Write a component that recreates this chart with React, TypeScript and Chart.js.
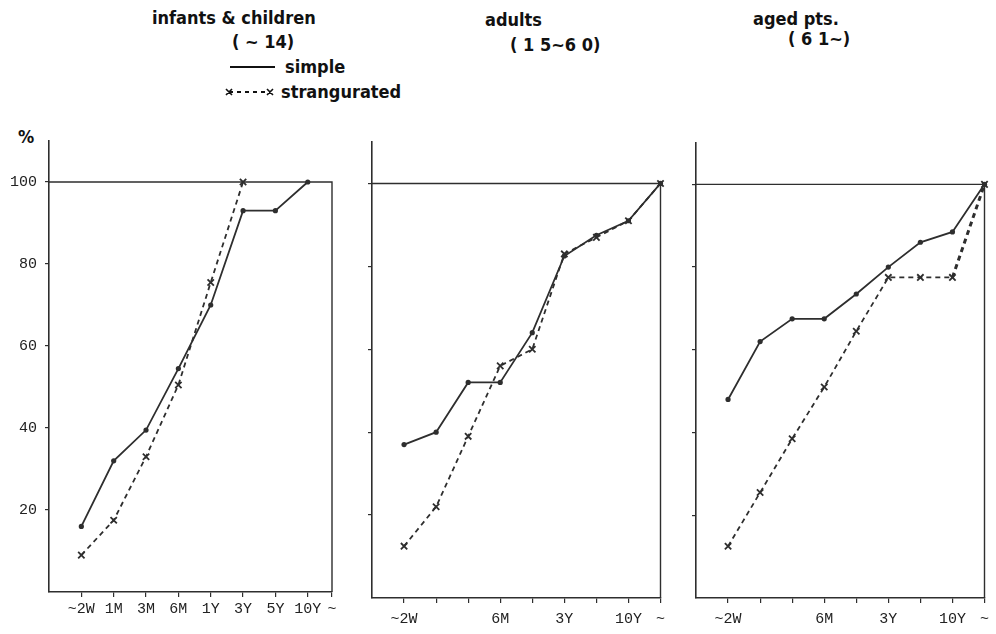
import React, { useEffect, useRef } from 'react';
import { Chart, registerables } from 'chart.js';

Chart.register(...registerables);

// ---------- data ----------
const CHILD_LABELS = ['~2W', '1M', '3M', '6M', '1Y', '3Y', '5Y', '10Y', '~'];
const CHILD_SIMPLE = [16, 32, 39.5, 54.5, 70, 93, 93, 100];
const CHILD_STRANG = [9, 17.5, 33, 50.5, 75.5, 100];

const ADULT_LABELS = ['~2W', '', '', '6M', '', '3Y', '', '10Y', '~'];
const ADULT_SIMPLE = [37, 40, 52, 52, 64, 82.5, 87.5, 91, 100];
const ADULT_STRANG = [12.5, 22, 39, 56, 60, 83, 87, 91, 100];

const AGED_LABELS = ['~2W', '', '', '6M', '', '3Y', '', '10Y', '~'];
const AGED_SIMPLE = [48, 62, 67.5, 67.5, 73.5, 80, 86, 88.5, 100];
const AGED_STRANG = [12.5, 25.5, 38.5, 51, 64.5, 77.5, 77.5, 77.5, 100];

const Y_TICKS = [20, 40, 60, 80, 100];
const Y_TICK_LABELS = ['20', '40', '60', '80', '100'];
const Y_MIN = 0;
const Y_MAX = 110;
const FULL = 100;

const INK = '#2e2e2e';
const TICK_FONT = "'Liberation Mono', 'DejaVu Sans Mono', monospace";
const HEAD_FONT = "'Liberation Sans Narrow', 'DejaVu Sans Condensed', 'Roboto', sans-serif";

type PanelProps = {
  labels: string[];
  simple: number[];
  strang: number[];
  xMax: number;
  showY: boolean;
  left: number;
  top: number;
  width: number;
  height: number;
  yWidth: number;
  xHeight: number;
  padTop: number;
  padRight: number;
  xPad: number;
  heavyLast?: boolean;
};

const framePlugin = {
  id: 'frame',
  beforeDatasetsDraw(chart: any) {
    const { ctx, chartArea, scales } = chart;
    const y100 = scales.y.getPixelForValue(FULL);
    const xr = chartArea.right;
    ctx.save();
    ctx.strokeStyle = INK;
    ctx.lineWidth = 1.4;
    ctx.beginPath();
    ctx.moveTo(chartArea.left, y100);
    ctx.lineTo(xr, y100);
    ctx.lineTo(xr, chartArea.bottom);
    ctx.stroke();
    ctx.restore();
  },
};

function Panel(p: PanelProps) {
  const ref = useRef<HTMLCanvasElement | null>(null);
  useEffect(() => {
    if (!ref.current) return;
    const last = p.labels.length - 1;
    const nStrang = p.strang.length;
    const chart = new Chart(ref.current, {
      type: 'line',
      data: {
        datasets: [
          {
            label: 'simple',
            data: p.simple.map((v, i) => ({ x: i, y: v })),
            borderColor: INK,
            borderWidth: 1.8,
            pointRadius: 2.6,
            pointBackgroundColor: INK,
            pointBorderWidth: 0,
            pointStyle: 'circle',
            tension: 0,
            clip: false,
          } as any,
          {
            label: 'strangurated',
            data: p.strang.map((v, i) => ({ x: i, y: v })),
            borderColor: INK,
            borderWidth: 1.8,
            borderDash: [5, 4],
            pointStyle: 'crossRot',
            pointRadius: 4.5,
            pointBorderWidth: 1.8,
            pointBorderColor: INK,
            tension: 0,
            clip: false,
            segment: {
              borderWidth: (c: any) => (p.heavyLast && c.p1DataIndex === nStrang - 1 ? 3 : 1.8),
            },
          } as any,
        ],
      },
      options: {
        responsive: false,
        animation: false,
        layout: { padding: { top: p.padTop, right: p.padRight, left: 0, bottom: 0 } },
        plugins: { legend: { display: false }, tooltip: { enabled: false } },
        scales: {
          x: {
            type: 'linear',
            min: -1,
            max: p.xMax,
            afterBuildTicks: (s: any) => {
              s.ticks = p.labels.map((_, i) => ({ value: i === last ? p.xMax : i }));
            },
            afterFit: (s: any) => {
              s.height = p.xHeight;
            },
            ticks: {
              autoSkip: false,
              maxRotation: 0,
              padding: p.xPad,
              color: '#222',
              font: { family: TICK_FONT, size: 15 },
              callback: (_v: any, i: number) => p.labels[i],
            },
            grid: { drawOnChartArea: false, drawTicks: true, tickLength: 5, color: INK, lineWidth: 1.2 },
            border: { color: INK, width: 1.6 },
          },
          y: {
            type: 'linear',
            min: Y_MIN,
            max: Y_MAX,
            afterBuildTicks: (s: any) => {
              s.ticks = Y_TICKS.map((v) => ({ value: v }));
            },
            afterFit: (s: any) => {
              s.width = p.yWidth;
            },
            ticks: {
              padding: 8,
              color: '#222',
              font: { family: TICK_FONT, size: 15 },
              callback: (_v: any, i: number) => (p.showY ? Y_TICK_LABELS[i] : ''),
            },
            grid: { drawOnChartArea: false, drawTicks: true, tickLength: 4, color: INK, lineWidth: 1.2 },
            border: { color: INK, width: 1.6 },
          },
        },
      },
      plugins: [framePlugin],
    } as any);
    return () => chart.destroy();
  }, []);
  return (
    <canvas
      ref={ref}
      width={p.width}
      height={p.height}
      style={{ position: 'absolute', left: p.left, top: p.top, width: p.width, height: p.height }}
    />
  );
}

function Txt({ x, y, size, children, bold = true }: { x: number; y: number; size: number; children: any; bold?: boolean }) {
  return (
    <div
      style={{
        position: 'absolute',
        left: x,
        top: y - size / 2,
        fontFamily: HEAD_FONT,
        fontWeight: bold ? 700 : 400,
        fontSize: size,
        lineHeight: 1,
        whiteSpace: 'pre',
        color: '#111',
      }}
    >
      {children}
    </div>
  );
}

export default function App() {
  return (
    <div style={{ position: 'fixed', left: 0, top: 0, width: 996, height: 634, background: '#fff', overflow: 'hidden' }}>
      <Txt x={152} y={18} size={18}>infants &amp; children</Txt>
      <Txt x={232} y={42} size={18}>{'( ~ 14)'}</Txt>
      <svg style={{ position: 'absolute', left: 222, top: 55 }} width={56} height={45}>
        <line x1={8} y1={12} x2={53} y2={12} stroke="#111" strokeWidth={2} />
        <line x1={7} y1={37} x2={48} y2={37} stroke="#111" strokeWidth={1.8} strokeDasharray="4 4" />
        <path d="M4 34 L10 40 M10 34 L4 40 M45 34 L51 40 M51 34 L45 40" stroke="#111" strokeWidth={1.6} />
      </svg>
      <Txt x={285} y={67} size={18}>simple</Txt>
      <Txt x={281} y={92} size={18}>strangurated</Txt>
      <Txt x={485} y={20} size={18}>adults</Txt>
      <Txt x={510} y={45} size={18}>{'( 1 5~6 0)'}</Txt>
      <Txt x={753} y={19} size={18}>aged pts.</Txt>
      <Txt x={788} y={39} size={18}>{'( 6 1~)'}</Txt>
      <Txt x={18} y={137} size={18}>%</Txt>

      <Panel labels={CHILD_LABELS} simple={CHILD_SIMPLE} strang={CHILD_STRANG} xMax={7.75} showY xPad={3}
        left={0} top={120} width={345} height={514} yWidth={49} xHeight={42} padTop={21} padRight={13} />
      <Panel labels={ADULT_LABELS} simple={ADULT_SIMPLE} strang={ADULT_STRANG} xMax={8} showY={false} xPad={7}
        left={345} top={120} width={327} height={514} yWidth={27} xHeight={36} padTop={22} padRight={9} />
      <Panel labels={AGED_LABELS} simple={AGED_SIMPLE} strang={AGED_STRANG} xMax={8} showY={false} xPad={7} heavyLast
        left={672} top={120} width={324} height={514} yWidth={24} xHeight={36} padTop={23} padRight={8} />
    </div>
  );
}
